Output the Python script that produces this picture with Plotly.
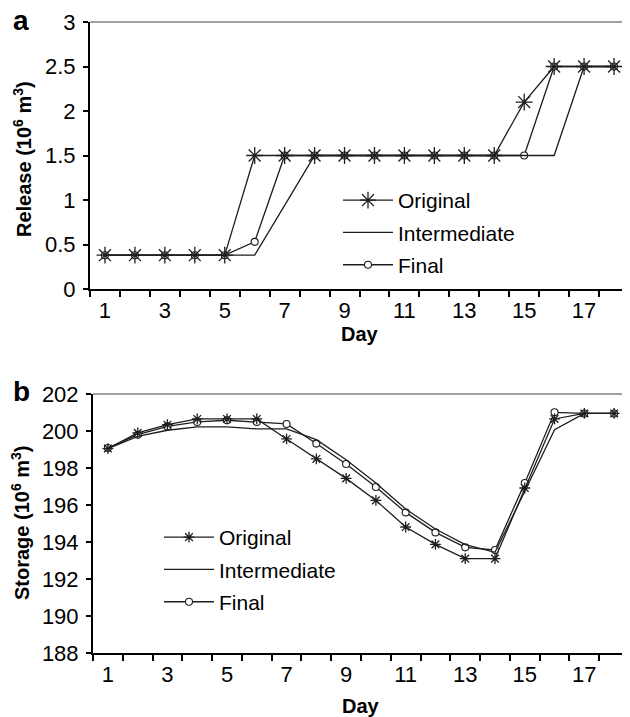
import plotly.graph_objects as go

days = list(range(1, 19))

# Panel a: release (10^6 m3)
rel_original = [0.38, 0.38, 0.38, 0.38, 0.38, 1.5, 1.5, 1.5, 1.5, 1.5, 1.5, 1.5, 1.5, 1.5, 2.1, 2.5, 2.5, 2.5]
rel_intermediate = [0.38, 0.38, 0.38, 0.38, 0.38, 0.38, 0.94, 1.5, 1.5, 1.5, 1.5, 1.5, 1.5, 1.5, 1.5, 1.5, 2.5, 2.5]
rel_final = [0.38, 0.38, 0.38, 0.38, 0.38, 0.53, 1.5, 1.5, 1.5, 1.5, 1.5, 1.5, 1.5, 1.5, 1.5, 2.5, 2.5, 2.5]

# Panel b: storage (10^6 m3)
sto_original = [199.05, 199.9, 200.34, 200.65, 200.65, 200.65, 199.57, 198.49, 197.44, 196.25,
                194.81, 193.87, 193.1, 193.1, 196.92, 200.65, 200.95, 200.95]
sto_intermediate = [199.05, 199.71, 200.04, 200.22, 200.22, 200.11, 200.11, 199.53, 198.45, 197.19,
                    195.78, 194.7, 193.86, 193.44, 196.74, 200.07, 200.95, 200.95]
sto_final = [199.08, 199.8, 200.25, 200.49, 200.58, 200.49, 200.38, 199.32, 198.22, 196.97,
             195.6, 194.52, 193.71, 193.57, 197.19, 201.01, 200.95, 200.95]

x_ticklabels = [1, 3, 5, 7, 9, 11, 13, 15, 17]
cat_edges = [d - 0.5 for d in days] + [18.5]

LC = "#1e1e1e"
FONT = "Liberation Sans, Arial, sans-serif"
OFF = 8                      # default page body margin
FW, FH = 630 - OFF, 717 - OFF

def fx(X):
    return (X - OFF) / FW

def fy(Y):
    return 1 - (Y - OFF) / FH

fig = go.Figure()

def add_series(xa, ya, leg, orig, inter, fin, star_size):
    # Final drawn first so that the star markers sit on top
    fig.add_trace(go.Scatter(x=days, y=fin, name="Final", mode="lines+markers",
                             xaxis=xa, yaxis=ya, legend=leg, legendrank=3,
                             legendgroup=leg + "f",
                             line=dict(color=LC, width=1.3),
                             marker=dict(symbol="circle", size=7, color="white",
                                         line=dict(color=LC, width=1.1))))
    fig.add_trace(go.Scatter(x=days, y=inter, name="Intermediate", mode="lines",
                             xaxis=xa, yaxis=ya, legend=leg, legendrank=2,
                             legendgroup=leg + "i",
                             line=dict(color=LC, width=1.3)))
    fig.add_trace(go.Scatter(x=days, y=orig, name="Original", mode="lines+markers",
                             xaxis=xa, yaxis=ya, legend=leg, legendrank=1,
                             legendgroup=leg + "o",
                             line=dict(color=LC, width=1.3),
                             marker=dict(symbol="asterisk-open", size=star_size,
                                         line=dict(color=LC, width=1.3), color=LC)))

add_series("x", "y", "legend", rel_original, rel_intermediate, rel_final, 14)
add_series("x2", "y2", "legend2", sto_original, sto_intermediate, sto_final, 9)

def xaxis_cfg(domain, anchor):
    return dict(domain=domain, anchor=anchor, range=[0.5, 18.5], automargin=False,
                tickmode="array", tickvals=x_ticklabels, ticktext=[str(v) for v in x_ticklabels],
                ticks="outside", ticklen=1, tickcolor="rgba(0,0,0,0)",
                minor=dict(tickmode="array", tickvals=cat_edges, ticks="outside",
                           ticklen=6, tickwidth=1.5, tickcolor="black"),
                showline=True, linecolor="black", linewidth=2, showgrid=False,
                zeroline=False, tickfont=dict(size=22, color="black", family=FONT))

def yaxis_cfg(domain, anchor, rng, dtick):
    return dict(domain=domain, anchor=anchor, range=rng, dtick=dtick, tick0=rng[0],
                automargin=False, ticklabelstandoff=3,
                ticks="outside", ticklen=5, tickwidth=1.5, tickcolor="black",
                showline=True, linecolor="black", linewidth=2, showgrid=False,
                zeroline=False, tickfont=dict(size=22, color="black", family=FONT))

fig.update_layout(
    width=FW, height=FH,
    margin=dict(l=0, r=0, t=0, b=0, autoexpand=False),
    paper_bgcolor="white", plot_bgcolor="white",
    font=dict(family=FONT, color="black", size=20),
    xaxis=xaxis_cfg([fx(90), fx(629)], "y"),
    yaxis=yaxis_cfg([fy(289), fy(22)], "x", [0, 3], 0.5),
    xaxis2=xaxis_cfg([fx(93), fx(629)], "y2"),
    yaxis2=yaxis_cfg([fy(653), fy(394)], "x2", [188, 202], 2),
    legend=dict(x=fx(338), y=fy(180), xanchor="left", yanchor="top",
                bgcolor="rgba(0,0,0,0)", font=dict(size=21, family=FONT),
                tracegroupgap=2, itemwidth=50),
    legend2=dict(x=fx(159), y=fy(517), xanchor="left", yanchor="top",
                 bgcolor="rgba(0,0,0,0)", font=dict(size=21, family=FONT),
                 tracegroupgap=2, itemwidth=50),
    showlegend=True,
)

# top/right frame lines
for xr, yr in (("x domain", "y domain"), ("x2 domain", "y2 domain")):
    fig.add_shape(type="line", xref=xr, yref=yr, x0=0, x1=1, y0=1, y1=1,
                  line=dict(color="#444", width=1.2))
    fig.add_shape(type="line", xref=xr, yref=yr, x0=1, x1=1, y0=0, y1=1,
                  line=dict(color="#444", width=1.2))

# axis titles and panel letters
def label(text, X, Y, size, angle=0):
    fig.add_annotation(text=text, textangle=angle, xref="paper", yref="paper",
                       x=fx(X), y=fy(Y), xanchor="center", yanchor="middle",
                       showarrow=False, font=dict(size=size, family=FONT, color="black"))

label("<b>Release (10<sup>6</sup> m<sup>3</sup>)</b>", 22, 159, 20, -90)
label("<b>Storage (10<sup>6</sup> m<sup>3</sup>)</b>", 20, 523, 20, -90)
label("<b>Day</b>", 360, 334, 20)
label("<b>Day</b>", 361, 706, 20)
label("<b>a</b>", 21, 21, 28)
label("<b>b</b>", 21, 391, 28)

fig.write_html("out.html")
